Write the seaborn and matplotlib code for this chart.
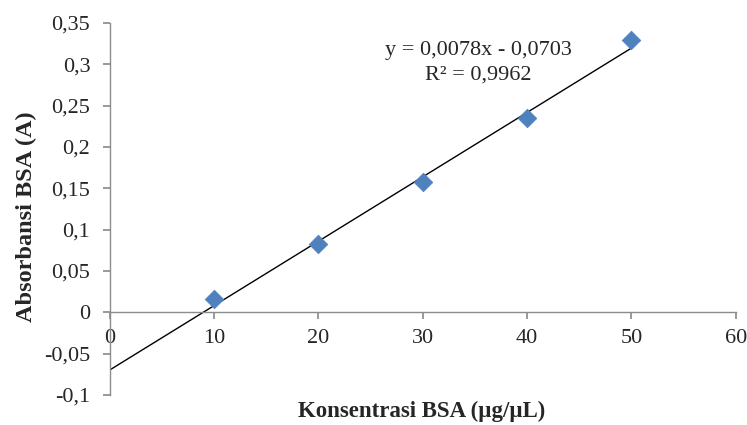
#!/usr/bin/env python3
"""BSA standard curve: absorbance vs concentration with linear trendline."""

import matplotlib
matplotlib.use("Agg")
import matplotlib.pyplot as plt
import numpy as np
import pandas as pd
import seaborn as sns

# data
concentration = [10, 20, 30, 40, 50]
absorbance = [0.016, 0.082, 0.157, 0.235, 0.329]

x_ticks = [0, 10, 20, 30, 40, 50, 60]
x_tick_labels = ["0", "10", "20", "30", "40", "50", "60"]
y_ticks = [-0.1, -0.05, 0, 0.05, 0.1, 0.15, 0.2, 0.25, 0.3, 0.35]
y_tick_labels = ["-0,1", "-0,05", "0", "0,05", "0,1", "0,15", "0,2", "0,25", "0,3", "0,35"]

trend_range = [0, 50]
equation_text = "y = 0,0078x - 0,0703"
r2_text = "R² = 0,9962"

MARKER_COLOR = "#4F81BD"
AXIS_COLOR = "#8c8c8c"


def main() -> None:
    sns.set_theme(style="white")
    plt.rcParams["font.family"] = ["Liberation Serif", "DejaVu Serif"]

    df = pd.DataFrame({"conc": concentration, "abs": absorbance})
    slope, intercept = np.polyfit(df["conc"], df["abs"], 1)
    trend = pd.DataFrame({"conc": trend_range})
    trend["abs"] = slope * trend["conc"] + intercept

    fig = plt.figure(figsize=(7.47, 4.25), dpi=100)
    ax = fig.add_axes([0.147, 0.071, 0.838, 0.875])

    sns.lineplot(data=trend, x="conc", y="abs", color="black", linewidth=1.0, ax=ax)
    sns.scatterplot(
        data=df, x="conc", y="abs", marker="D", s=90, color=MARKER_COLOR,
        edgecolor=MARKER_COLOR, linewidth=0.5, ax=ax, zorder=3,
    )

    ax.set_xlim(0, 60)
    ax.set_ylim(-0.1, 0.35)
    ax.set_xticks(x_ticks)
    ax.set_xticklabels(x_tick_labels)
    ax.set_yticks(y_ticks)
    ax.set_yticklabels(y_tick_labels)

    ax.spines["bottom"].set_position(("data", 0))
    ax.spines["top"].set_visible(False)
    ax.spines["right"].set_visible(False)
    for side in ("left", "bottom"):
        ax.spines[side].set_color(AXIS_COLOR)
        ax.spines[side].set_linewidth(1.0)

    ax.tick_params(axis="x", direction="out", length=5, color=AXIS_COLOR,
                   labelsize=16, pad=7, bottom=True)
    ax.tick_params(axis="y", direction="out", length=5, color=AXIS_COLOR,
                   labelsize=16, pad=9, left=True)

    ax.set_xlabel("")
    ax.set_ylabel("")
    fig.text(0.565, 0.031, "Konsentrasi BSA (µg/µL)", ha="center", va="center",
             fontsize=16.5, fontweight="bold")
    fig.text(0.035, 0.489, "Absorbansi BSA (A)", ha="center", va="center",
             rotation=90, fontsize=17.5, fontweight="bold")

    ax.text(35.3, 0.317, equation_text, ha="center", va="center", fontsize=16)
    ax.text(35.3, 0.287, r2_text, ha="center", va="center", fontsize=16)

    fig.savefig("out.png", dpi=100)
    plt.close(fig)


if __name__ == "__main__":
    main()
